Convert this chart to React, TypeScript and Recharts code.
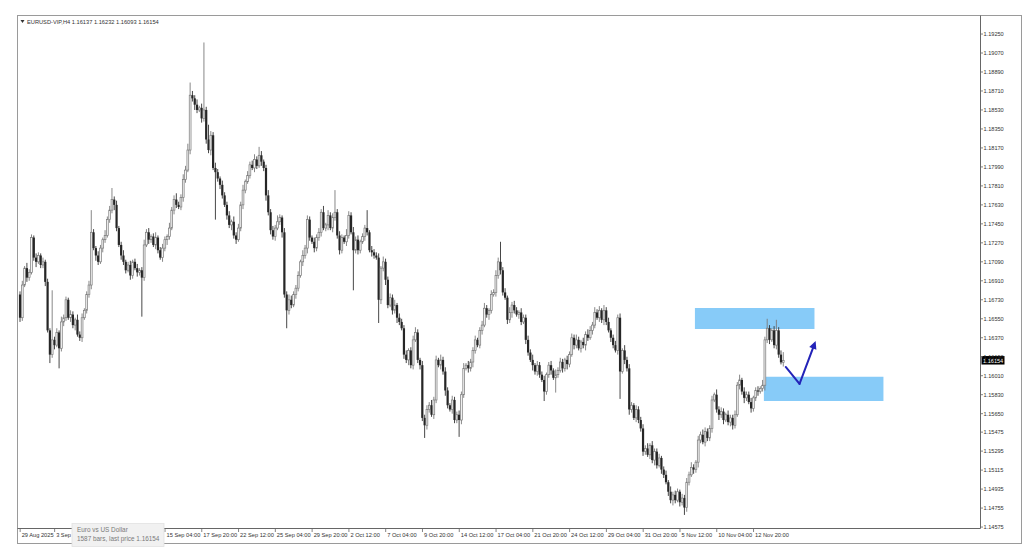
import React from "react";
import { ComposedChart, Bar, XAxis, YAxis, ReferenceArea, ReferenceLine } from "recharts";

// EURUSD H4, 29 Aug 2025 16:00 -> 14 Nov 2025 20:00
const firstOpen = 1.1678;
const closes = [
  1.1656, 1.1687, 1.1703, 1.1694, 1.1699, 1.1732, 1.1713, 1.1709, 1.1715, 1.1706,
  1.1709, 1.1690, 1.1644, 1.1621, 1.1635, 1.1630, 1.1642, 1.1627, 1.1652, 1.1656,
  1.1673, 1.1656, 1.1659, 1.1649, 1.1654, 1.1640, 1.1637, 1.1656, 1.1663, 1.1678,
  1.1687, 1.1737, 1.1722, 1.1715, 1.1709, 1.1722, 1.1730, 1.1734, 1.1749, 1.1758,
  1.1768, 1.1763, 1.1741, 1.1725, 1.1715, 1.1709, 1.1701, 1.1706, 1.1696, 1.1709,
  1.1703, 1.1699, 1.1701, 1.1694, 1.1725, 1.1737, 1.1730, 1.1733, 1.1725, 1.1732,
  1.1720, 1.1713, 1.1722, 1.1730, 1.1733, 1.1741, 1.1758, 1.1768, 1.1763, 1.1761,
  1.1770, 1.1787, 1.1796, 1.1815, 1.1867, 1.1864, 1.1858, 1.1853, 1.1855, 1.1845,
  1.1853, 1.1825, 1.1815, 1.1829, 1.1798, 1.1794, 1.1788, 1.1782, 1.1772, 1.1763,
  1.1753, 1.1744, 1.1747, 1.1734, 1.1730, 1.1741, 1.1763, 1.1777, 1.1785, 1.1791,
  1.1801, 1.1798, 1.1806, 1.1800, 1.1810, 1.1804, 1.1798, 1.1772, 1.1756, 1.1739,
  1.1733, 1.1741, 1.1747, 1.1751, 1.1737, 1.1678, 1.1663, 1.1673, 1.1668, 1.1678,
  1.1684, 1.1696, 1.1709, 1.1715, 1.1722, 1.1749, 1.1732, 1.1728, 1.1722, 1.1732,
  1.1737, 1.1756, 1.1741, 1.1744, 1.1753, 1.1741, 1.1751, 1.1756, 1.1734, 1.1720,
  1.1732, 1.1728, 1.1734, 1.1753, 1.1737, 1.1720, 1.1730, 1.1720, 1.1728, 1.1733,
  1.1741, 1.1737, 1.1720, 1.1718, 1.1715, 1.1713, 1.1673, 1.1703, 1.1709, 1.1692,
  1.1668, 1.1675, 1.1663, 1.1668, 1.1656, 1.1652, 1.1646, 1.1621, 1.1616, 1.1625,
  1.1611, 1.1635, 1.1642, 1.1616, 1.1611, 1.1561, 1.1554, 1.1569, 1.1573, 1.1564,
  1.1578, 1.1616, 1.1611, 1.1616, 1.1605, 1.1587, 1.1573, 1.1569, 1.1578, 1.1559,
  1.1564, 1.1559, 1.1583, 1.1608, 1.1611, 1.1608, 1.1614, 1.1625, 1.1635, 1.1630,
  1.1644, 1.1649, 1.1665, 1.1659, 1.1663, 1.1678, 1.1680, 1.1696, 1.1709, 1.1701,
  1.1680, 1.1675, 1.1654, 1.1661, 1.1668, 1.1663, 1.1659, 1.1661, 1.1652, 1.1656,
  1.1635, 1.1623, 1.1616, 1.1611, 1.1605, 1.1611, 1.1602, 1.1597, 1.1586, 1.1602,
  1.1611, 1.1606, 1.1599, 1.1602, 1.1606, 1.1614, 1.1608, 1.1616, 1.1612, 1.1621,
  1.1637, 1.1630, 1.1635, 1.1627, 1.1633, 1.1630, 1.1640, 1.1637, 1.1644, 1.1649,
  1.1661, 1.1656, 1.1663, 1.1654, 1.1663, 1.1652, 1.1644, 1.1637, 1.1630, 1.1625,
  1.1656, 1.1605, 1.1625, 1.1616, 1.1608, 1.1569, 1.1573, 1.1561, 1.1569, 1.1559,
  1.1551, 1.1529, 1.1532, 1.1526, 1.1535, 1.1521, 1.1529, 1.1516, 1.1523, 1.1512,
  1.1507, 1.1500, 1.1491, 1.1483, 1.1488, 1.1483, 1.1491, 1.1481, 1.1485, 1.1476,
  1.1500, 1.1507, 1.1514, 1.1512, 1.1519, 1.1540, 1.1545, 1.1538, 1.1548, 1.1542,
  1.1551, 1.1578, 1.1583, 1.1569, 1.1564, 1.1567, 1.1559, 1.1564, 1.1557, 1.1561,
  1.1554, 1.1564, 1.1592, 1.1597, 1.1586, 1.1580, 1.1583, 1.1576, 1.1570, 1.1580,
  1.1587, 1.1586, 1.1589, 1.1592, 1.1635, 1.1646, 1.1635, 1.1644, 1.1630, 1.1644,
  1.1621, 1.16137, 1.16154,
];

// wick lengths in pips above / below the body
const wickUp = [
  3, 4, 2, 5, 3, 3, 2, 4, 3, 2,
  4, 2, 3, 2, 47, 3, 4, 2, 5, 3,
  3, 2, 4, 3, 2, 5, 3, 4, 2, 3,
  4, 21, 3, 2, 4, 3, 2, 5, 3, 4,
  11, 3, 4, 2, 3, 5, 2, 3, 4, 2,
  3, 4, 2, 3, 5, 3, 4, 2, 3, 5,
  2, 3, 4, 3, 2, 5, 3, 4, 6, 3,
  3, 5, 4, 6, 12, 4, 3, 5, 2, 4,
  64, 3, 14, 4, 3, 5, 3, 2, 4, 3,
  3, 4, 2, 5, 3, 4, 3, 5, 2, 4,
  3, 4, 5, 3, 8, 4, 2, 3, 5, 3,
  4, 3, 6, 3, 2, 4, 3, 5, 4, 3,
  3, 4, 2, 5, 3, 4, 3, 2, 4, 3,
  4, 3, 6, 2, 5, 3, 4, 21, 3, 4,
  3, 2, 6, 4, 3, 5, 3, 4, 2, 3,
  3, 17, 2, 4, 3, 3, 4, 2, 5, 3,
  3, 4, 3, 5, 2, 4, 3, 3, 4, 2,
  3, 4, 5, 3, 2, 4, 3, 4, 3, 5,
  3, 4, 2, 5, 3, 4, 3, 2, 4, 3,
  3, 4, 3, 5, 2, 4, 3, 3, 4, 2,
  3, 4, 5, 3, 2, 4, 3, 5, 4, 19,
  3, 4, 2, 5, 3, 4, 3, 2, 4, 3,
  3, 4, 3, 5, 2, 4, 3, 3, 4, 2,
  3, 4, 2, 5, 3, 4, 3, 2, 4, 3,
  4, 3, 5, 3, 2, 4, 3, 5, 4, 3,
  5, 3, 4, 2, 5, 3, 4, 2, 3, 4,
  3, 4, 2, 5, 3, 4, 3, 2, 4, 3,
  3, 4, 3, 5, 2, 4, 3, 3, 4, 2,
  3, 4, 2, 5, 3, 4, 3, 2, 4, 3,
  4, 3, 5, 3, 2, 4, 3, 5, 4, 3,
  3, 4, 2, 5, 3, 4, 3, 2, 4, 3,
  3, 4, 3, 5, 2, 4, 3, 3, 4, 2,
  3, 4, 2, 5, 3, 9, 3, 2, 4, 10,
  3, 4, 8,
];
const wickDn = [
  4, 3, 2, 4, 3, 2, 3, 5, 2, 3,
  3, 4, 2, 8, 3, 4, 2, 19, 3, 4,
  3, 2, 4, 3, 5, 2, 3, 4, 2, 3,
  3, 4, 2, 5, 3, 2, 4, 3, 2, 3,
  3, 5, 3, 2, 4, 3, 3, 2, 4, 3,
  2, 4, 3, 37, 3, 2, 4, 3, 2, 4,
  3, 2, 4, 3, 5, 3, 2, 4, 3, 2,
  3, 4, 3, 2, 4, 3, 5, 3, 2, 4,
  3, 4, 3, 5, 2, 45, 3, 4, 3, 2,
  4, 3, 5, 3, 4, 2, 3, 4, 3, 2,
  3, 2, 4, 3, 2, 4, 3, 5, 3, 4,
  3, 4, 2, 3, 5, 3, 17, 4, 3, 2,
  4, 3, 2, 4, 3, 5, 3, 2, 4, 3,
  3, 4, 2, 3, 5, 2, 4, 3, 3, 4,
  3, 2, 4, 3, 2, 38, 3, 4, 3, 2,
  4, 3, 2, 4, 3, 2, 22, 4, 3, 5,
  3, 2, 4, 3, 5, 3, 2, 4, 3, 5,
  3, 4, 2, 3, 4, 3, 12, 4, 3, 2,
  4, 3, 2, 4, 3, 5, 3, 2, 4, 3,
  3, 16, 4, 3, 2, 4, 3, 5, 3, 2,
  3, 4, 2, 3, 5, 3, 2, 4, 3, 4,
  3, 2, 4, 3, 5, 3, 2, 4, 3, 2,
  4, 3, 2, 5, 3, 4, 3, 2, 9, 3,
  3, 4, 2, 14, 3, 2, 4, 3, 5, 3,
  2, 4, 3, 2, 4, 3, 5, 3, 2, 4,
  3, 2, 4, 3, 5, 3, 2, 4, 3, 2,
  4, 26, 2, 4, 3, 5, 3, 2, 4, 3,
  3, 4, 3, 2, 4, 3, 5, 3, 2, 4,
  3, 2, 4, 3, 5, 3, 2, 4, 3, 7,
  4, 3, 2, 4, 3, 5, 3, 2, 4, 3,
  3, 4, 2, 3, 5, 3, 4, 2, 3, 4,
  4, 3, 2, 4, 3, 5, 3, 2, 4, 3,
  3, 4, 2, 3, 5, 3, 4, 2, 3, 4,
  3, 2, 4,
];

// time labels every 16 bars (the two under the info box are hidden in the original)
const timeIdx = [0, 15, 63, 79, 95, 111, 127, 143, 159, 175, 191, 207, 223, 239, 255, 271, 287, 303, 319];
const timeText = [
  "29 Aug 2025", "3 Sep 04:00", "15 Sep 04:00", "17 Sep 20:00",
  "22 Sep 12:00", "25 Sep 04:00", "29 Sep 20:00", "2 Oct 12:00", "7 Oct 04:00", "9 Oct 20:00",
  "14 Oct 12:00", "17 Oct 04:00", "21 Oct 20:00", "24 Oct 12:00", "29 Oct 04:00", "31 Oct 20:00",
  "5 Nov 12:00", "10 Nov 04:00", "12 Nov 20:00",
];

const priceTicks = [
  1.1925, 1.1907, 1.1889, 1.1871, 1.1853, 1.1835, 1.1817, 1.1799, 1.1781, 1.1763,
  1.1745, 1.1727, 1.1709, 1.1691, 1.1673, 1.1655, 1.1637, 1.1619, 1.1601, 1.1583,
  1.1565, 1.15475, 1.15295, 1.15115, 1.14935, 1.14755, 1.14575,
];

// drawn objects: zones (bar index / price) and the arrow path
const supplyZone = { x1: 294, x2: 345, y1: 1.16453, y2: 1.16652 };
const demandZone = { x1: 324, x2: 375, y1: 1.15771, y2: 1.16000 };
const arrowPts = [
  { x: 333, y: 1.16093 },
  { x: 339, y: 1.15932 },
  { x: 346, y: 1.1634 },
];

const lastPrice = 1.16154;
const totalSlots = 418;

const FONT = "Liberation Sans, Arial, sans-serif";

const labelMap: Record<number, string> = {};
timeIdx.forEach((ix, k) => (labelMap[ix] = timeText[k]));

const data: any[] = [];
for (let i = 0; i < totalSlots; i++) {
  if (i < closes.length) {
    const o = i === 0 ? firstOpen : closes[i - 1];
    const c = closes[i];
    const high = Math.max(o, c) + wickUp[i] / 10000;
    const low = Math.min(o, c) - wickDn[i] / 10000;
    data.push({ i, o, c, high, low, range: [low, high] });
  } else {
    data.push({ i });
  }
}

function Candle(props: any) {
  const { x, y, width, height, payload } = props;
  if (!payload || payload.o == null || !isFinite(y) || !isFinite(height)) return null;
  const top = Math.min(y, y + height);
  const bot = Math.max(y, y + height);
  const span = payload.high - payload.low;
  const py = (p: number) => top + ((payload.high - p) / span) * (bot - top);
  const cx = x + width / 2;
  const up = payload.c >= payload.o;
  const bTop = py(Math.max(payload.o, payload.c));
  const bBot = py(Math.min(payload.o, payload.c));
  const h = Math.max(bBot - bTop, 0.8);
  const wickColor = up ? "#7a7a7a" : "#333333";
  return (
    <g>
      <line x1={cx} y1={top} x2={cx} y2={bot} stroke={wickColor} strokeWidth={0.9} />
      {up ? (
        <rect x={cx - 0.9} y={bTop} width={1.8} height={h} fill="#f4f4f4" stroke="#7a7a7a" strokeWidth={0.7} />
      ) : (
        <rect x={cx - 1.1} y={bTop} width={2.2} height={h} fill="#262626" />
      )}
    </g>
  );
}

function TimeTick(props: any) {
  const { x, y, payload } = props;
  const t = labelMap[payload.value];
  if (!t) return <g />;
  return (
    <g>
      <line x1={x} y1={y} x2={x} y2={y + 4} stroke="#666" strokeWidth={0.8} />
      <text x={x + 1.5} y={y + 8.5} fontSize={5.7} fill="#333" fontFamily={FONT} clipPath="url(#timeClip)">
        {t}
      </text>
    </g>
  );
}

function PriceTick(props: any) {
  const { x, y, payload } = props;
  return (
    <g>
      <line x1={x} y1={y} x2={x + 3} y2={y} stroke="#666" strokeWidth={0.8} />
      <text x={x + 3.5} y={y + 2} fontSize={5.6} fill="#333" fontFamily={FONT}>
        {Number(payload.value).toFixed(5)}
      </text>
    </g>
  );
}

function PriceBox(props: any) {
  const { viewBox } = props;
  if (!viewBox) return null;
  const bx = viewBox.x + viewBox.width + 1.5;
  const by = viewBox.y;
  return (
    <g>
      <rect x={bx} y={by - 4.5} width={23} height={8.5} fill="#000" />
      <text x={bx + 1.5} y={by + 2} fontSize={5.6} fill="#fff" fontFamily={FONT}>
        {lastPrice.toFixed(5)}
      </text>
    </g>
  );
}

const ARROW = "#2323b8";

function ArrowTail(props: any) {
  const { x1, y1, x2, y2 } = props;
  return <line x1={x1} y1={y1} x2={x2} y2={y2} stroke={ARROW} strokeWidth={2} strokeLinecap="round" />;
}

function ArrowHead(props: any) {
  const { x1, y1, x2, y2 } = props;
  const dx = x2 - x1;
  const dy = y2 - y1;
  const len = Math.sqrt(dx * dx + dy * dy) || 1;
  const ux = dx / len;
  const uy = dy / len;
  const hl = 8;
  const hw = 3.8;
  const bx = x2 - ux * hl;
  const by = y2 - uy * hl;
  const pts = `${x2},${y2} ${bx - uy * hw},${by + ux * hw} ${bx + uy * hw},${by - ux * hw}`;
  return (
    <g>
      <line x1={x1} y1={y1} x2={bx + ux * 2} y2={by + uy * 2} stroke={ARROW} strokeWidth={2} strokeLinecap="round" />
      <polygon points={pts} fill={ARROW} />
    </g>
  );
}

export default function App() {
  return (
    <div style={{ position: "fixed", left: 0, top: 0, width: 1024, height: 559, background: "#fff" }}>
      <ComposedChart
        width={1024}
        height={559}
        data={data}
        margin={{ top: 16, right: 0, bottom: 0, left: 19 }}
        barCategoryGap={0}
      >
        <defs>
          <clipPath id="timeClip">
            <rect x={0} y={0} width={72} height={559} />
            <rect x={165} y={0} width={859} height={559} />
          </clipPath>
        </defs>
        <XAxis
          dataKey="i"
          type="category"
          interval={0}
          height={31}
          tickSize={0}
          tickMargin={0}
          axisLine={false}
          tickLine={false}
          tick={<TimeTick />}
        />
        <YAxis
          orientation="right"
          type="number"
          width={44}
          domain={[1.14566, 1.19421]}
          allowDataOverflow
          ticks={priceTicks}
          interval={0}
          tickSize={0}
          tickMargin={0}
          axisLine={false}
          tickLine={false}
          tick={<PriceTick />}
        />
        <ReferenceArea {...supplyZone} fill="#87cbf8" fillOpacity={1} stroke="none" ifOverflow="visible" />
        <ReferenceArea {...demandZone} fill="#87cbf8" fillOpacity={1} stroke="none" ifOverflow="visible" />
        <Bar dataKey="range" shape={<Candle />} isAnimationActive={false} />
        <ReferenceLine segment={[arrowPts[0], arrowPts[1]]} shape={ArrowTail} ifOverflow="visible" />
        <ReferenceLine segment={[arrowPts[1], arrowPts[2]]} shape={ArrowHead} ifOverflow="visible" />
        <ReferenceLine y={lastPrice} stroke="none" label={<PriceBox />} ifOverflow="visible" />
      </ComposedChart>
      <svg
        width={1024}
        height={559}
        style={{ position: "absolute", left: 0, top: 0, pointerEvents: "none" }}
      >
        <rect x={17.5} y={15.5} width={1004} height={528} fill="none" stroke="#9a9a9a" strokeWidth={1} />
        <line x1={980.5} y1={15.5} x2={980.5} y2={528.5} stroke="#666" strokeWidth={1} />
        <line x1={17.5} y1={528.5} x2={980.5} y2={528.5} stroke="#666" strokeWidth={1} />
        <polygon points="20.5,20 24.5,20 22.5,23" fill="#333" />
        <text x={27} y={24} fontSize={5.7} fill="#333" fontFamily={FONT}>
          EURUSD-VIP,H4  1.16137 1.16232 1.16093 1.16154
        </text>
        <rect x={72} y={523.5} width={92} height={23} fill="#f1f1f1" stroke="#e2e2e2" strokeWidth={0.8} />
        <text x={77} y={531.5} fontSize={6.4} fill="#7a7a7a" fontFamily={FONT}>
          Euro vs US Dollar
        </text>
        <text x={77} y={541} fontSize={6.4} fill="#7a7a7a" fontFamily={FONT}>
          1587 bars, last price 1.16154
        </text>
      </svg>
    </div>
  );
}
